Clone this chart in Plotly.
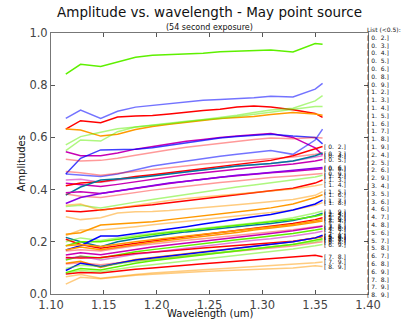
import plotly.graph_objects as go

wavelength = [1.114, 1.128, 1.147, 1.163, 1.180, 1.196, 1.212, 1.228, 1.244, 1.260, 1.276, 1.292, 1.308, 1.329, 1.350, 1.357]

G = "#5ef000"; LG = "rgba(94,240,0,0.5)"
B = "#0000ff"; LB = "rgba(0,0,255,0.55)"
R = "#ff0000"; LR = "rgba(255,0,0,0.4)"
O = "#ff9900"; LO = "rgba(255,153,0,0.5)"
M = "#c800b4"; LM = "rgba(200,0,180,0.5)"
P = "#8a00e6"; T = "#00789c"

series_colors = [G, LB, R, O, LG, LG, M, "rgba(0,0,255,0.75)", LR, LB, LR,
                 LM, M, R, T, M, LR, P, LG, R, LO,
                 O, LO, T, R, LG, G, B, O, LR, M, G, R, LM, O, LR, B, LG, G, R, LG, LO, LO, O, LO]

amplitudes = [
    [0.842,0.880,0.872,0.890,0.907,0.915,0.918,0.920,0.922,0.928,0.930,0.932,0.935,0.927,0.960,0.957],
    [0.673,0.705,0.673,0.700,0.716,0.722,0.728,0.735,0.742,0.745,0.748,0.752,0.758,0.755,0.785,0.807],
    [0.632,0.664,0.656,0.678,0.682,0.684,0.690,0.697,0.703,0.708,0.716,0.720,0.716,0.706,0.692,0.677],
    [0.632,0.628,0.605,0.612,0.630,0.642,0.650,0.658,0.665,0.672,0.676,0.680,0.688,0.695,0.690,0.685],
    [0.571,0.603,0.620,0.633,0.640,0.645,0.652,0.660,0.668,0.676,0.685,0.695,0.705,0.712,0.740,0.760],
    [0.549,0.590,0.586,0.622,0.640,0.648,0.655,0.662,0.668,0.672,0.680,0.688,0.695,0.705,0.718,0.718],
    [0.545,0.530,0.530,0.540,0.555,0.565,0.575,0.585,0.592,0.600,0.605,0.610,0.615,0.600,0.560,0.533],
    [0.460,0.520,0.552,0.553,0.555,0.560,0.570,0.580,0.590,0.598,0.603,0.608,0.612,0.605,0.600,0.575],
    [0.516,0.510,0.512,0.520,0.532,0.543,0.553,0.562,0.570,0.578,0.586,0.592,0.598,0.595,0.600,0.598],
    [0.460,0.455,0.450,0.460,0.475,0.490,0.500,0.510,0.520,0.528,0.535,0.543,0.550,0.535,0.590,0.632],
    [0.469,0.465,0.455,0.462,0.470,0.478,0.485,0.492,0.498,0.503,0.508,0.513,0.518,0.525,0.535,0.540],
    [0.437,0.440,0.428,0.435,0.445,0.455,0.462,0.470,0.478,0.484,0.490,0.495,0.500,0.510,0.525,0.530],
    [0.424,0.420,0.412,0.420,0.430,0.440,0.450,0.458,0.465,0.472,0.478,0.485,0.490,0.498,0.510,0.515],
    [0.415,0.425,0.430,0.440,0.450,0.457,0.465,0.474,0.483,0.490,0.498,0.505,0.512,0.530,0.555,0.565],
    [0.379,0.410,0.437,0.440,0.445,0.452,0.460,0.468,0.476,0.483,0.490,0.495,0.500,0.510,0.530,0.540],
    [0.388,0.392,0.385,0.395,0.405,0.415,0.423,0.432,0.440,0.447,0.453,0.460,0.465,0.470,0.478,0.480],
    [0.383,0.375,0.370,0.380,0.390,0.398,0.405,0.413,0.420,0.427,0.433,0.440,0.446,0.452,0.460,0.462],
    [0.347,0.370,0.385,0.395,0.405,0.415,0.425,0.432,0.440,0.447,0.455,0.460,0.466,0.472,0.480,0.485],
    [0.335,0.340,0.330,0.342,0.352,0.362,0.372,0.382,0.392,0.400,0.410,0.418,0.426,0.435,0.448,0.455],
    [0.318,0.315,0.322,0.330,0.336,0.342,0.350,0.358,0.366,0.372,0.380,0.388,0.396,0.405,0.425,0.437],
    [0.296,0.285,0.292,0.310,0.315,0.316,0.320,0.325,0.330,0.336,0.342,0.348,0.355,0.362,0.378,0.392],
    [0.229,0.235,0.264,0.268,0.272,0.277,0.285,0.292,0.300,0.308,0.315,0.322,0.330,0.345,0.370,0.380],
    [0.224,0.245,0.245,0.250,0.258,0.265,0.272,0.280,0.287,0.294,0.300,0.306,0.312,0.322,0.340,0.350],
    [0.217,0.200,0.181,0.200,0.212,0.222,0.230,0.238,0.245,0.252,0.258,0.264,0.270,0.282,0.300,0.310],
    [0.210,0.190,0.175,0.185,0.195,0.203,0.212,0.220,0.228,0.235,0.242,0.250,0.258,0.270,0.285,0.292],
    [0.200,0.215,0.205,0.215,0.225,0.232,0.240,0.246,0.252,0.258,0.265,0.272,0.280,0.292,0.310,0.318],
    [0.185,0.200,0.200,0.210,0.220,0.228,0.236,0.243,0.250,0.257,0.264,0.270,0.276,0.285,0.298,0.305],
    [0.169,0.185,0.222,0.222,0.232,0.240,0.250,0.258,0.268,0.278,0.288,0.296,0.305,0.322,0.345,0.360],
    [0.169,0.180,0.170,0.180,0.190,0.198,0.206,0.213,0.220,0.228,0.236,0.245,0.252,0.262,0.275,0.280],
    [0.165,0.170,0.165,0.175,0.185,0.192,0.200,0.206,0.212,0.218,0.224,0.230,0.237,0.246,0.258,0.262],
    [0.149,0.158,0.150,0.160,0.172,0.180,0.188,0.195,0.202,0.210,0.217,0.224,0.232,0.242,0.255,0.260],
    [0.130,0.145,0.138,0.150,0.162,0.170,0.178,0.186,0.193,0.200,0.208,0.215,0.222,0.232,0.245,0.250],
    [0.140,0.138,0.140,0.148,0.155,0.160,0.166,0.171,0.176,0.181,0.186,0.191,0.196,0.202,0.215,0.220],
    [0.135,0.145,0.130,0.142,0.152,0.160,0.168,0.176,0.184,0.192,0.200,0.206,0.212,0.222,0.235,0.240],
    [0.118,0.125,0.102,0.118,0.132,0.140,0.148,0.155,0.162,0.169,0.176,0.183,0.190,0.200,0.215,0.222],
    [0.115,0.120,0.112,0.120,0.128,0.134,0.140,0.146,0.152,0.158,0.164,0.170,0.176,0.184,0.196,0.200],
    [0.090,0.118,0.105,0.118,0.130,0.138,0.146,0.153,0.160,0.168,0.175,0.182,0.190,0.200,0.215,0.225],
    [0.098,0.110,0.105,0.115,0.125,0.132,0.140,0.147,0.154,0.160,0.167,0.174,0.180,0.190,0.200,0.207],
    [0.082,0.098,0.092,0.105,0.118,0.127,0.135,0.143,0.150,0.158,0.166,0.173,0.180,0.190,0.205,0.212],
    [0.077,0.082,0.080,0.088,0.095,0.100,0.106,0.111,0.116,0.121,0.126,0.131,0.136,0.140,0.148,0.143],
    [0.080,0.090,0.085,0.095,0.105,0.112,0.120,0.127,0.134,0.141,0.148,0.155,0.162,0.172,0.185,0.190],
    [0.066,0.075,0.060,0.068,0.075,0.080,0.085,0.089,0.093,0.097,0.101,0.105,0.108,0.112,0.120,0.123],
    [0.038,0.064,0.058,0.065,0.072,0.076,0.080,0.083,0.086,0.089,0.092,0.095,0.098,0.100,0.108,0.105],
    [0.185,0.190,0.182,0.192,0.200,0.208,0.215,0.222,0.229,0.236,0.243,0.250,0.257,0.266,0.280,0.285],
    [0.340,0.345,0.320,0.330,0.340,0.350,0.358,0.366,0.372,0.378,0.384,0.390,0.395,0.402,0.415,0.420],
]

low_pairs = [(0,2),(0,3),(0,4),(0,5),(0,6),(0,8),(0,9),(1,2),(1,3),(1,4),(1,5),(1,6),(1,7),(1,8),(1,9),
             (2,4),(2,5),(2,6),(2,9),(3,4),(3,5),(3,6),(4,6),(4,7),(4,8),(5,6),(5,7),(5,8),(6,7),(6,8),
             (6,9),(7,8),(7,9),(8,9)]
n_high = 11

NB = "\u00a0"
def pair_label(p):
    return "[" + NB + str(p[0]) + "." + NB + NB + str(p[1]) + ".]"

FONT = "DejaVu Sans"
fig = go.Figure()
for vals, col in zip(amplitudes, series_colors):
    fig.add_trace(go.Scatter(x=wavelength, y=vals, mode="lines",
                             line=dict(color=col, width=1.5), showlegend=False,
                             hoverinfo="skip"))

annotations = []
low_idx = list(range(n_high, len(amplitudes)))
low_idx.sort(key=lambda i: -amplitudes[i][-1])
for k, i in enumerate(low_idx):
    annotations.append(dict(x=wavelength[-1], y=amplitudes[i][-1], xref="x", yref="y",
                            text=pair_label(low_pairs[k]), showarrow=False,
                            xanchor="left", yanchor="middle", borderpad=0,
                            font=dict(family=FONT, size=6, color="#111")))

list_text = "List (<0.5):<br>" + "<br>".join(pair_label(p) for p in low_pairs)
annotations.append(dict(x=1.0, y=1.030, xref="paper", yref="paper", text=list_text,
                        showarrow=False, xanchor="left", yanchor="top", align="left",
                        borderpad=0, xshift=-2,
                        font=dict(family=FONT, size=6, color="#111")))
annotations.append(dict(x=0.5, y=1.0, xref="paper", yref="paper", text="(54 second exposure)",
                        showarrow=False, xanchor="center", yanchor="bottom", yshift=0,
                        borderpad=0,
                        font=dict(family=FONT, size=8, color="#111")))
annotations.append(dict(x=-0.0915, y=0.5, xref="paper", yref="paper", text="Amplitudes",
                        showarrow=False, textangle=-90, xanchor="center", yanchor="middle",
                        font=dict(family=FONT, size=10, color="#111")))
annotations.append(dict(x=0.5, y=-0.073, xref="paper", yref="paper", text="Wavelength (um)",
                        showarrow=False, xanchor="center", yanchor="middle",
                        font=dict(family=FONT, size=10, color="#111")))

fig.update_layout(
    template="none",
    width=409, height=327,
    margin=dict(l=51, r=41, t=33, b=33, pad=0, autoexpand=False),
    paper_bgcolor="white", plot_bgcolor="white",
    showlegend=False,
    title=dict(text="Amplitude vs. wavelength - May point source", x=0.5, xanchor="center",
               xref="paper", y=1 - 12/327, yref="container", yanchor="middle",
               font=dict(family=FONT, size=13.5, color="#111")),
    annotations=annotations,
    font=dict(family=FONT),
)
fig.update_xaxes(range=[1.10, 1.40], tickvals=[1.10,1.15,1.20,1.25,1.30,1.35,1.40],
                 ticktext=["1.10","1.15","1.20","1.25","1.30","1.35","1.40"],
                 ticks="inside", ticklen=4, tickcolor="#555", showline=True, linecolor="#777",
                 linewidth=1, mirror="ticks", showgrid=False, zeroline=False, automargin=False,
                 tickfont=dict(family=FONT, size=11.5, color="#444"))
fig.update_yaxes(range=[0, 1.0], tickvals=[0,0.2,0.4,0.6,0.8,1.0],
                 ticktext=["0.0","0.2","0.4","0.6","0.8","1.0"],
                 ticks="inside", ticklen=4, tickcolor="#555", showline=True, linecolor="#777",
                 linewidth=1, mirror="ticks", showgrid=False, zeroline=False, automargin=False,
                 tickfont=dict(family=FONT, size=11.5, color="#444"))

fig.write_html("out.html", config={"displayModeBar": False},
               post_script="document.body.style.margin='0px';document.body.style.overflow='hidden';")
